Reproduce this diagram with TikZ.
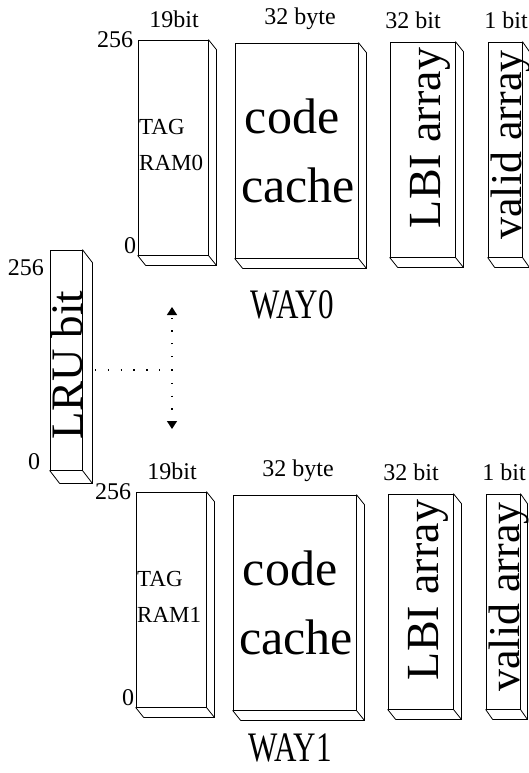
\documentclass[tikz,border=0pt]{standalone}
\usepackage{fontspec}
\setmainfont{Liberation Serif}
\usetikzlibrary{arrows.meta,calc}
\tikzset{
  khoi/.style={draw,line width=0.8pt,inner sep=0pt},
  nho/.style={font=\fontsize{24}{24}\selectfont,inner sep=0pt},
  vua/.style={font=\fontsize{23}{36}\selectfont,inner sep=0pt},
  lon/.style={font=\fontsize{50}{50}\selectfont,inner sep=0pt},
  doc/.style={rotate=90,anchor=base,inner sep=0pt},
  chamcham/.style={line width=1.3pt,dash pattern=on 1.3pt off 11.5pt},
  muiten/.style={-{Triangle[length=8pt,width=10pt]}}
}
% mat ben va mat day cua khoi
\newcommand{\matben}[3]{%
  \draw[khoi] (#1.south west) -- ++(#2,#3) coordinate (#1-bl)
    (#1.north east) -- ++(#2,#3) |- (#1-bl)
    (#1.south east) -- ++(#2,#3);}
\begin{document}
\begin{tikzpicture}[x=1pt,y=-1pt]
\useasboundingbox (0,0) rectangle (529,773);
% Hai way giong nhau
\foreach \w/\dx/\dy/\wy in {0/0/0/305,1/-2/452/296}{
\begin{scope}[shift={(\dx,\dy)}]
  \node[khoi,minimum width=70,minimum height=215] (tag\w) at (173,147.5) {};
  \node[khoi,minimum width=123,minimum height=215] (code\w) at (296.5,150.5) {};
  \node[khoi,minimum width=65,minimum height=215] (lbi\w) at (422.5,149.5) {};
  \node[khoi,minimum width=34,minimum height=215] (valid\w) at (505,149.5) {};
  \matben{tag\w}{8}{10} \matben{code\w}{8}{10}
  \matben{lbi\w}{8}{10} \matben{valid\w}{7}{10}
  % chu tren dau
  \node[nho] (bit19\w) at (174,19) {19bit};
  \node[nho] (byte32\w) at (300,19) {32 byte};
  \node[nho] (bit32\w) at (413,20) {32 bit};
  \node[nho] (bit1\w) at (506,20) {1 bit};
  \node[nho] (max\w) at (115,40) {256};
  \node[nho] (min\w) at (130,246) {0};
  % chu trong khoi
  \node[vua,anchor=west,align=left] (ten\w) at (139,145) {TAG\\RAM\w};
  \node[lon,anchor=base] (cd\w) at (292,133) {code};
  \node[lon,anchor=base] (ch\w) at (298,202) {cache};
  \node[lon,doc,font=\fontsize{46}{46}\selectfont] (lbit\w) at (440,138) {LBI array};
  \node[lon,doc,font=\fontsize{44}{44}\selectfont] (vat\w) at (521,145) {valid array};
  \node[lon,font=\fontsize{42}{42}\selectfont] (way\w) at (292,\wy) {\scalebox{0.74}[1]{WAY\w}};
\end{scope}}
% Khoi LRU
\node[khoi,minimum width=32,minimum height=220] (lru) at (66,360) {};
\matben{lru}{10}{13}
\node[doc,font=\fontsize{45}{45}\selectfont] (lrut) at (82,365) {LRU bit};
\node[nho] (lrumax) at (26,268) {256};
\node[nho] (lrumin) at (34,462) {0};
% Duong cham
\coordinate (hub) at (172,370);
\coordinate (goc) at (95,370);
\coordinate (len) at (172,307);
\coordinate (xuong) at (172,429);
\draw[chamcham] (goc) -- (hub);
\draw[chamcham,muiten] (hub) -- (len);
\draw[chamcham,muiten] (hub) -- (xuong);
\end{tikzpicture}
\end{document}
